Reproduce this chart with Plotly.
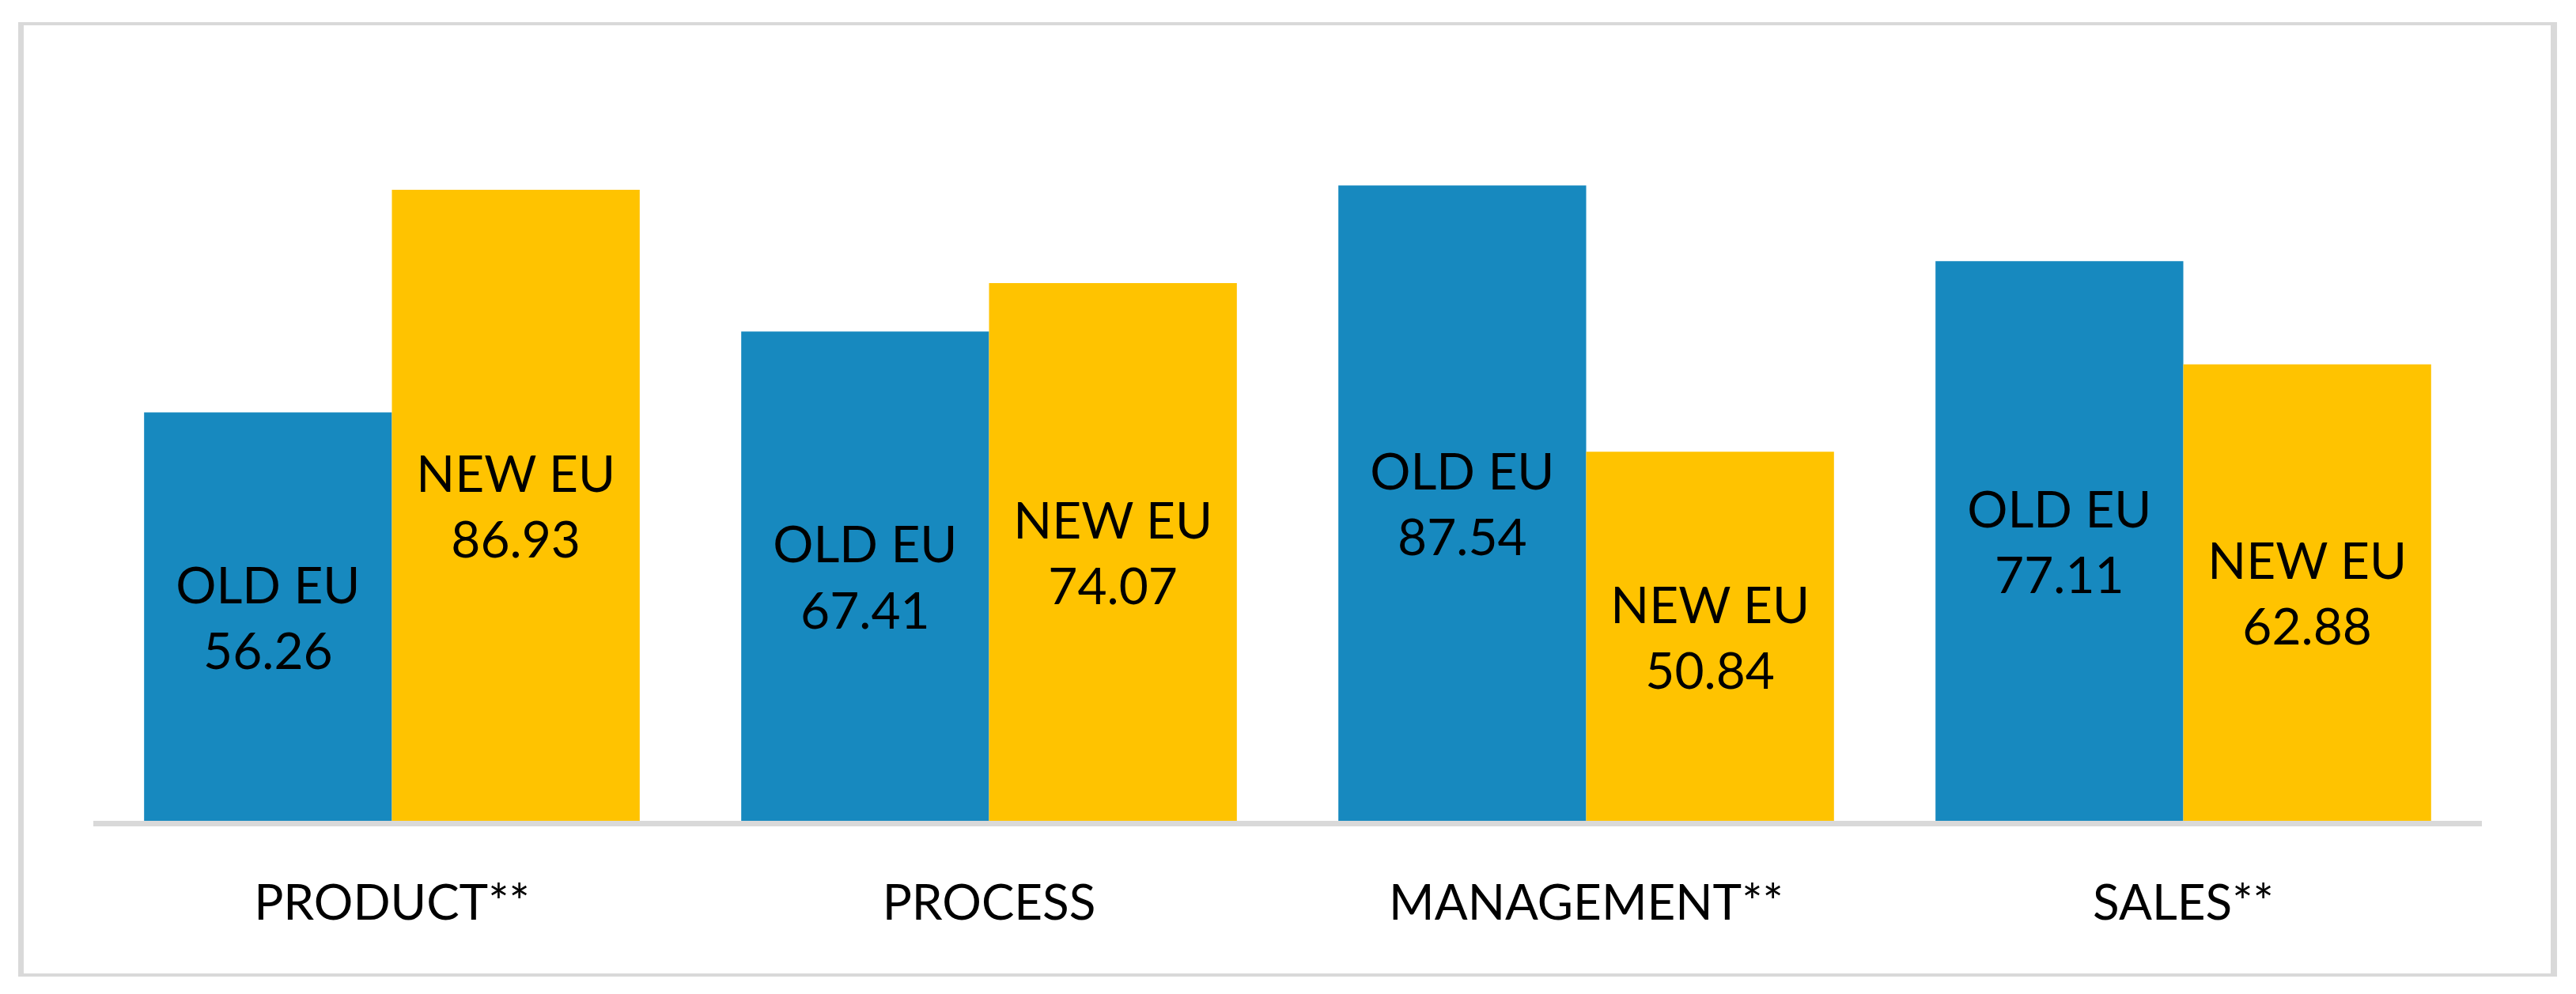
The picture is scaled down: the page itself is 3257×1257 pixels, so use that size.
import plotly.graph_objects as go

categories = ["PRODUCT**", "PROCESS", "MANAGEMENT**", "SALES**"]
old_eu = [56.26, 67.41, 87.54, 77.11]
new_eu = [86.93, 74.07, 50.84, 62.88]
series_names = ["OLD EU", "NEW EU"]

OFF = 8  # browser body margin
W, H = 3257 - 2 * OFF, 1257 - 2 * OFF
L, R, T, B = 118 - OFF, 3138 - OFF, 120 - OFF, 1038 - OFF  # plot area in pixels
FONT = "Lato, 'Open Sans', sans-serif"

def px(x):
    return (x - OFF - L) / (R - L)

def py(y):
    return (B - (y - OFF)) / (B - T)

fig = go.Figure()
fig.add_trace(go.Bar(
    x=categories, y=old_eu, name=series_names[0],
    marker=dict(color="#1789BF", line=dict(width=0)),
    texttemplate=series_names[0] + "<br>%{y:.2f}",
    textposition="inside", insidetextanchor="middle", textangle=0,
    textfont=dict(family=FONT, size=64, color="#000000"),
    hoverinfo="skip",
))
fig.add_trace(go.Bar(
    x=categories, y=new_eu, name=series_names[1],
    marker=dict(color="#FFC300", line=dict(width=0)),
    texttemplate=series_names[1] + "<br>%{y:.2f}",
    textposition="inside", insidetextanchor="middle", textangle=0,
    textfont=dict(family=FONT, size=64, color="#000000"),
    hoverinfo="skip",
))

border = "#D9D9D9"
shapes = [
    dict(type="line", xref="paper", yref="paper", x0=px(26.5), x1=px(26.5), y0=py(28), y1=py(1235), line=dict(color=border, width=7)),
    dict(type="line", xref="paper", yref="paper", x0=px(3229), x1=px(3229), y0=py(28), y1=py(1235), line=dict(color=border, width=8)),
    dict(type="line", xref="paper", yref="paper", x0=px(23), x1=px(3233), y0=py(30), y1=py(30), line=dict(color=border, width=4)),
    dict(type="line", xref="paper", yref="paper", x0=px(23), x1=px(3233), y0=py(1233), y1=py(1233), line=dict(color=border, width=4)),
]

fig.update_layout(
    width=W, height=H,
    margin=dict(l=L, r=W - R, t=T, b=H - B, pad=0),
    paper_bgcolor="white", plot_bgcolor="white",
    barmode="group", bargap=0.17, bargroupgap=0,
    showlegend=False,
    shapes=shapes,
    font=dict(family=FONT, color="#000000"),
    xaxis=dict(
        showline=True, linecolor=border, linewidth=7,
        showgrid=False, ticks="", zeroline=False,
        tickfont=dict(family=FONT, size=62, color="#000000"),
        ticklabelstandoff=44,
    ),
    yaxis=dict(
        range=[0, 100], showgrid=False, showline=False, zeroline=False,
        showticklabels=False, ticks="",
    ),
)

fig.write_html("out.html")
